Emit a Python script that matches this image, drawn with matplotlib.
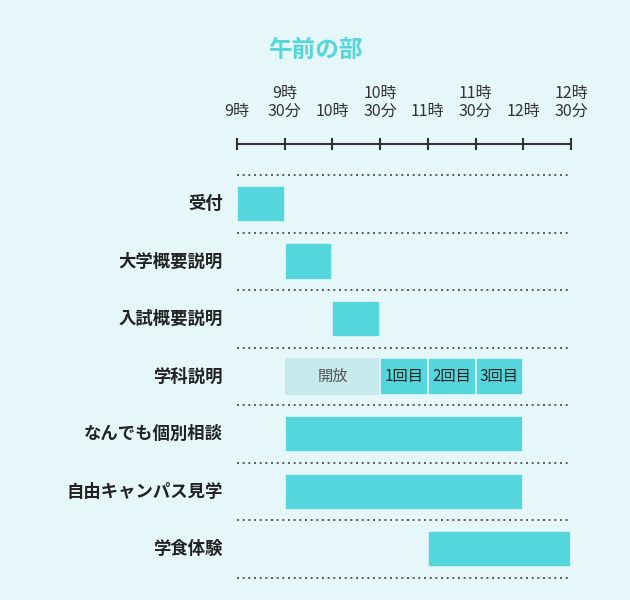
import matplotlib.pyplot as plt

plt.rcParams['font.family'] = 'Noto Sans CJK JP'

title = '午前の部'
tick_hours = [9, 9.5, 10, 10.5, 11, 11.5, 12, 12.5]
tick_labels = ['9時', '9時\n30分', '10時', '10時\n30分', '11時', '11時\n30分', '12時', '12時\n30分']
rows = ['受付', '大学概要説明', '入試概要説明', '学科説明', 'なんでも個別相談', '自由キャンパス見学', '学食体験']
# (row, start, end, label, light)
bars = [
    (0, 9.0, 9.5, '', False),
    (1, 9.5, 10.0, '', False),
    (2, 10.0, 10.5, '', False),
    (3, 9.5, 10.5, '開放', True),
    (3, 10.5, 11.0, '1回目', False),
    (3, 11.0, 11.5, '2回目', False),
    (3, 11.5, 12.0, '3回目', False),
    (4, 9.5, 12.0, '', False),
    (5, 9.5, 12.0, '', False),
    (6, 11.0, 12.5, '', False),
]

bg = '#e6f7f9'
cyan = '#55d6dc'
light = '#c6e9eb'

fig = plt.figure(figsize=(6.3, 6.0), dpi=100, facecolor=bg)
ax = fig.add_axes([237 / 630, 22 / 600, 334 / 630, (578 - 144) / 600])
ax.set_facecolor(bg)
ax.set_xlim(9, 12.5)
ax.set_ylim(6.5, -1.04)
ax.axis('off')

ax.plot([9, 12.5], [-1.04, -1.04], color='#333333', lw=1.5, clip_on=False)
for h, lab in zip(tick_hours, tick_labels):
    ax.plot([h, h], [-1.13, -0.95], color='#333333', lw=1.5, clip_on=False)
    ax.text(h, -1.45, lab, ha='center', va='bottom', fontsize=11.5,
            color='#333333', linespacing=1.1)

for i in range(len(rows) + 1):
    ax.plot([9, 12.5], [i - 0.5, i - 0.5], color='#444444', lw=1.2,
            ls=(0, (1.2, 2.2)), clip_on=False)

for i, name in enumerate(rows):
    ax.text(8.85, i, name, ha='right', va='center', fontsize=12.5,
            fontweight='bold', color='#222222')

for r, s, e, lab, lt in bars:
    ax.barh(r, e - s, left=s, height=0.63, color=light if lt else cyan,
            edgecolor=bg if not lt else 'none', linewidth=1.2)
    if lab:
        ax.text((s + e) / 2, r, lab, ha='center', va='center', fontsize=11,
                color='#555555' if lt else '#222222')

fig.text(315 / 630, 1 - 50 / 600, title, ha='center', va='center',
         fontsize=17, fontweight='bold', color='#55d6dc')

fig.savefig('out.png', dpi=100, facecolor=bg)
